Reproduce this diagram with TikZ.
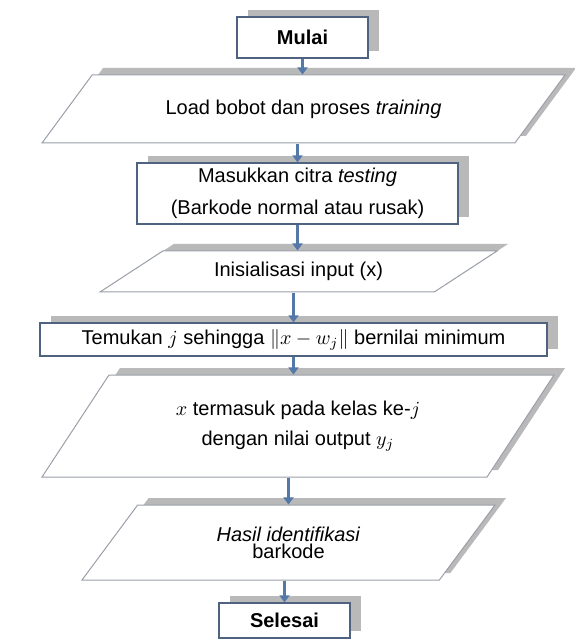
\documentclass[tikz,border=0pt]{standalone}
\usepackage{fontspec}
\setmainfont{Liberation Sans}
\usepackage{amsmath}
\usetikzlibrary{shapes.geometric,arrows.meta,shadows}
\definecolor{boxline}{HTML}{4F6280}
\definecolor{paraline}{HTML}{9A9FA8}
\definecolor{shade}{HTML}{B9B9B9}
\definecolor{flowarr}{HTML}{5479A8}

\begin{document}
\begin{tikzpicture}[
    x=0.5pt,y=-0.5pt,
    font=\fontsize{10}{12}\selectfont,
    shad/.style={drop shadow={shadow xshift=5.5pt,shadow yshift=3.5pt,fill=shade,opacity=1}},
    box/.style={draw=boxline,line width=0.6pt,fill=white,shad,align=center,inner sep=2pt},
    io/.style={trapezium,trapezium stretches body,draw=paraline,line width=0.5pt,fill=white,shad,align=center,inner sep=2pt},
    arr/.style={-{Triangle[length=3.5pt,width=5pt]},line width=1.5pt,draw=flowarr,fill=flowarr},
  ]
    \useasboundingbox (0,0) rectangle (574,640);

    \node[box,minimum width=65.5pt,minimum height=20.5pt] (mulai) at (302.5,37.5) {\textbf{Mulai}};
    \node[io,trapezium left angle=28,trapezium right angle=152,minimum width=261.5pt,minimum height=34pt] (load) at (303.5,109) {Load bobot dan proses \textit{training}};
    \node[box,minimum width=160.5pt,minimum height=30.5pt] (citra) at (297.5,193.5) {Masukkan citra \textit{testing}\\[4pt](Barkode normal atau rusak)};
    \node[io,trapezium left angle=23,trapezium right angle=157,minimum width=198.5pt,minimum height=20.5pt] (init) at (298.5,271.5) {Inisialisasi input (x)};
    \node[box,minimum width=253.5pt,minimum height=16.5pt] (cari) at (293.5,339.5) {Temukan $j$ sehingga $\lVert x-w_j\rVert$ bernilai minimum};
    \node[io,trapezium left angle=41,trapezium right angle=139,minimum width=256pt,minimum height=51pt] (kelas) at (298,426) {$x$ termasuk pada kelas ke-$j$\\[3pt]dengan nilai output $y_j$};
    \node[io,trapezium left angle=35.5,trapezium right angle=144.5,minimum width=206.5pt,minimum height=37.5pt] (hasil) at (288.5,542.5) {\textit{Hasil identifikasi}\\[-3.5pt]barkode};
    \node[box,minimum width=65.5pt,minimum height=17.5pt] (selesai) at (284.5,620.5) {\textbf{Selesai}};

    \draw[arr] (mulai.south) -- (mulai.south |- load.north);
    \draw[arr] (citra.north |- load.south) -- (citra.north);
    \draw[arr] (citra.south) -- (citra.south |- init.north);
    \draw[arr] (cari.north |- init.south) -- (cari.north);
    \draw[arr] (cari.south) -- (cari.south |- kelas.north);
    \draw[arr] (hasil.north |- kelas.south) -- (hasil.north);
    \draw[arr] (selesai.north |- hasil.south) -- (selesai.north);
  \end{tikzpicture}
\end{document}
